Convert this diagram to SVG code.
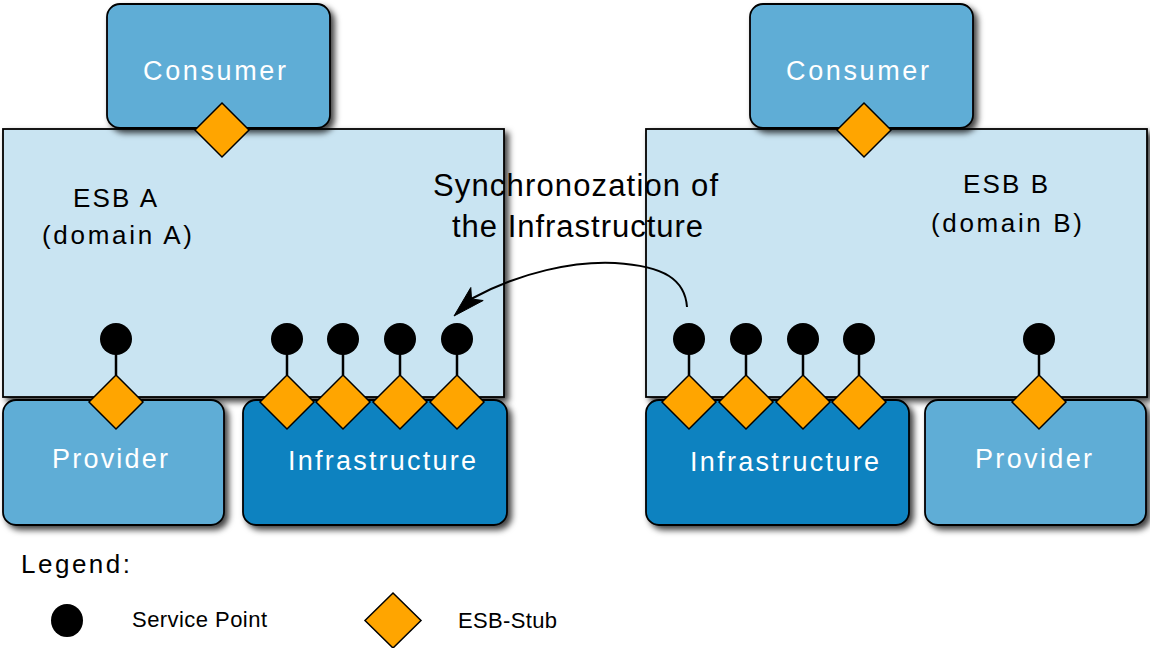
<svg xmlns="http://www.w3.org/2000/svg" width="1150" height="648" viewBox="0 0 1150 648">
  <defs>
    <filter id="sh" x="-10%" y="-10%" width="130%" height="130%">
      <feDropShadow dx="4" dy="4" stdDeviation="3" flood-color="#000" flood-opacity="0.75"/>
    </filter>
    <style>
      .esb{fill:#c9e4f2;stroke:#000;stroke-width:1.8;filter:url(#sh)}
      .cp{fill:#5fadd6;stroke:#000;stroke-width:1.8;filter:url(#sh)}
      .inf{fill:#0a82c0;stroke:#000;stroke-width:1.8;filter:url(#sh)}
      .stub{fill:#ffa500;stroke:#000;stroke-width:1.5;stroke-linejoin:miter}
      .sp{fill:#000}
      .stem{stroke:#000;stroke-width:2.5}
      .wt{font-family:"Liberation Sans",Arial,sans-serif;font-size:27px;fill:#fff;text-anchor:middle}
      .bt{font-family:"Liberation Sans",Arial,sans-serif;font-size:26px;fill:#000;text-anchor:middle}
      .st{font-family:"Liberation Sans",Arial,sans-serif;font-size:31px;fill:#000;text-anchor:middle}
      .lg{font-family:"Liberation Sans",Arial,sans-serif;fill:#000}
    </style>
    <g id="stubSym"><path class="stub" d="M0,-27 L27,0 L0,27 L-27,0 Z"/></g>
    <g id="spSym"><line class="stem" x1="0" y1="-48" x2="0" y2="-27"/><circle class="sp" cx="0" cy="-63" r="16"/></g>
  </defs>

  <g id="esbA">
    <rect class="esb" x="3" y="129" width="501" height="268"/>
    <text class="bt" x="115" y="207" textLength="84" lengthAdjust="spacing">ESB A</text>
    <text class="bt" x="117" y="244" textLength="150" lengthAdjust="spacing">(domain A)</text>
  </g>
  <g id="esbB">
    <rect class="esb" x="646" y="129" width="501" height="268"/>
    <text class="bt" x="1005.5" y="193" textLength="85" lengthAdjust="spacing">ESB B</text>
    <text class="bt" x="1006.5" y="232" textLength="151" lengthAdjust="spacing">(domain B)</text>
  </g>

  <g id="consumerA">
    <rect class="cp" x="107" y="4" width="223" height="124" rx="13"/>
    <text class="wt" x="214.5" y="80" textLength="143" lengthAdjust="spacing">Consumer</text>
  </g>
  <g id="consumerB">
    <rect class="cp" x="750" y="4" width="223" height="124" rx="13"/>
    <text class="wt" x="857.5" y="80" textLength="143" lengthAdjust="spacing">Consumer</text>
  </g>

  <g id="providerA">
    <rect class="cp" x="3" y="400" width="221" height="125" rx="13"/>
    <text class="wt" x="110" y="468" textLength="116" lengthAdjust="spacing">Provider</text>
  </g>
  <g id="infraA">
    <rect class="inf" x="243" y="400" width="264" height="125" rx="13"/>
    <text class="wt" x="382" y="470" textLength="188" lengthAdjust="spacing">Infrastructure</text>
  </g>
  <g id="infraB">
    <rect class="inf" x="646" y="400" width="263" height="125" rx="13"/>
    <text class="wt" x="784.5" y="471" textLength="189" lengthAdjust="spacing">Infrastructure</text>
  </g>
  <g id="providerB">
    <rect class="cp" x="925" y="400" width="221" height="125" rx="13"/>
    <text class="wt" x="1033.5" y="468" textLength="117" lengthAdjust="spacing">Provider</text>
  </g>

  <g id="stubs">
    <use href="#stubSym" x="222" y="130"/>
    <use href="#stubSym" x="864" y="130"/>
    <use href="#spSym" x="116" y="402"/><use href="#stubSym" x="116" y="402"/>
    <use href="#spSym" x="287" y="402"/><use href="#stubSym" x="287" y="402"/>
    <use href="#spSym" x="343" y="402"/><use href="#stubSym" x="343" y="402"/>
    <use href="#spSym" x="400" y="402"/><use href="#stubSym" x="400" y="402"/>
    <use href="#spSym" x="457" y="402"/><use href="#stubSym" x="457" y="402"/>
    <use href="#spSym" x="689" y="402"/><use href="#stubSym" x="689" y="402"/>
    <use href="#spSym" x="746" y="402"/><use href="#stubSym" x="746" y="402"/>
    <use href="#spSym" x="803" y="402"/><use href="#stubSym" x="803" y="402"/>
    <use href="#spSym" x="859" y="402"/><use href="#stubSym" x="859" y="402"/>
    <use href="#spSym" x="1039" y="402"/><use href="#stubSym" x="1039" y="402"/>
  </g>

  <g id="connectors">
    <path d="M687,307 C685,280 665,266 615,263 C575,261 520,272 471,299" fill="none" stroke="#000" stroke-width="2"/>
    <path d="M454,316 L470.8,287.5 L471.5,299 L483.2,300.5 Z" fill="#000" stroke="#000" stroke-width="1" stroke-linejoin="miter"/>
  </g>

  <g id="syncLabel">
    <text class="st" x="575.5" y="196" textLength="285" lengthAdjust="spacing">Synchronozation of</text>
    <text class="st" x="577.5" y="237" textLength="251" lengthAdjust="spacing">the Infrastructure</text>
  </g>

  <g id="legend">
    <text class="lg" x="21" y="573" font-size="26" textLength="109" lengthAdjust="spacing">Legend:</text>
    <ellipse cx="67" cy="620.5" rx="16" ry="16.5" fill="#000"/>
    <text class="lg" x="132" y="627" font-size="22" textLength="135" lengthAdjust="spacing">Service Point</text>
    <path class="stub" d="M393,593 L421,620.5 L393,648 L365,620.5 Z"/>
    <text class="lg" x="458" y="628" font-size="22" textLength="99" lengthAdjust="spacing">ESB-Stub</text>
  </g>
</svg>
